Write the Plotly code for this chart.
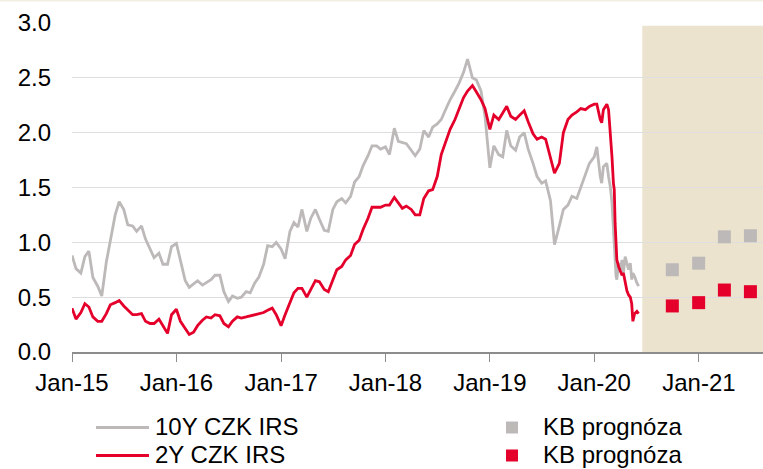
import pandas as pd
import plotly.graph_objects as go

# ---- data -------------------------------------------------------------
hist_dates = list(pd.date_range("2015-01-01", periods=120, freq="SMS").strftime("%Y-%m-%d"))
hist_dates += ["2020-01-01", "2020-01-10", "2020-01-22", "2020-01-27", "2020-02-02", "2020-02-14",
               "2020-02-20", "2020-02-26", "2020-03-03", "2020-03-08", "2020-03-11", "2020-03-14",
               "2020-03-17", "2020-03-20", "2020-03-26", "2020-04-01", "2020-04-07", "2020-04-12",
               "2020-04-18", "2020-04-24", "2020-04-30", "2020-05-06", "2020-05-11", "2020-05-15",
               "2020-05-21", "2020-05-29", "2020-06-04"]

irs_10y = [
    0.88, 0.76, 0.72, 0.87, 0.92, 0.68, 0.60, 0.51, 0.82, 1.02, 1.25, 1.37,
    1.30, 1.16, 1.15, 1.10, 1.15, 1.03, 0.93, 0.86, 0.90, 0.80, 0.80, 0.96,
    0.99, 0.84, 0.65, 0.59, 0.62, 0.65, 0.61, 0.63, 0.66, 0.70, 0.70, 0.55,
    0.46, 0.51, 0.49, 0.50, 0.55, 0.54, 0.63, 0.68, 0.80, 0.97, 0.96, 1.00,
    0.94, 0.85, 1.10, 1.18, 1.14, 1.30, 1.10, 1.22, 1.30, 1.21, 1.11, 1.10,
    1.30, 1.37, 1.40, 1.36, 1.42, 1.55, 1.60, 1.70, 1.79, 1.88, 1.88, 1.85,
    1.87, 1.80, 2.04, 1.92, 1.91, 1.90, 1.84, 1.79, 1.85, 2.02, 1.96, 2.05,
    2.08, 2.12, 2.22, 2.30, 2.38, 2.45, 2.55, 2.67, 2.50, 2.48, 2.38, 2.15,
    1.68, 1.88, 1.80, 1.78, 2.02, 1.88, 1.84, 1.96, 2.00, 1.85, 1.72, 1.60,
    1.54, 1.56, 1.38, 0.98, 1.15, 1.30, 1.34, 1.42, 1.40, 1.50, 1.63, 1.72,
    1.78, 1.87, 1.60, 1.54, 1.69, 1.72, 1.60, 1.51, 1.36, 1.11, 0.93, 0.75,
    0.70, 0.66, 0.81, 0.75, 0.84, 0.72, 0.87, 0.81, 0.75, 0.81, 0.66, 0.72,
    0.69, 0.63, 0.60,
]

irs_2y = [
    0.40, 0.30, 0.36, 0.44, 0.41, 0.32, 0.28, 0.28, 0.35, 0.43, 0.45, 0.47,
    0.42, 0.38, 0.34, 0.34, 0.35, 0.28, 0.26, 0.26, 0.30, 0.24, 0.17, 0.34,
    0.39, 0.28, 0.22, 0.16, 0.18, 0.24, 0.29, 0.32, 0.31, 0.34, 0.33, 0.26,
    0.23, 0.28, 0.32, 0.31, 0.32, 0.33, 0.34, 0.35, 0.36, 0.38, 0.40, 0.34,
    0.24, 0.34, 0.45, 0.54, 0.58, 0.58, 0.50, 0.57, 0.65, 0.64, 0.57, 0.55,
    0.66, 0.75, 0.78, 0.84, 0.88, 0.98, 1.02, 1.12, 1.22, 1.32, 1.32, 1.32,
    1.34, 1.34, 1.41, 1.36, 1.31, 1.33, 1.30, 1.25, 1.25, 1.40, 1.47, 1.48,
    1.60, 1.80, 1.93, 2.03, 2.12, 2.22, 2.32, 2.38, 2.43, 2.37, 2.30, 2.22,
    2.03, 2.16, 2.12, 2.18, 2.24, 2.15, 2.12, 2.16, 2.20, 2.10, 1.99, 1.94,
    1.96, 1.94, 1.78, 1.63, 1.72, 2.00, 2.12, 2.16, 2.19, 2.22, 2.21, 2.24,
    2.26, 2.26, 2.12, 2.09, 2.21, 2.26, 2.21, 2.03, 1.78, 1.54, 1.48, 1.17,
    0.93, 0.84, 0.78, 0.73, 0.70, 0.72, 0.62, 0.56, 0.52, 0.50, 0.44, 0.28,
    0.35, 0.37, 0.35,
]

fc_dates = ["2020-09-30", "2020-12-31", "2021-03-31", "2021-06-30"]
fc_10y = [0.75, 0.81, 1.05, 1.06]
fc_2y = [0.42, 0.45, 0.565, 0.55]

tick_vals = ["2015-01-01", "2016-01-01", "2017-01-01", "2018-01-01",
             "2019-01-01", "2020-01-01", "2021-01-01"]
tick_text = ["Jan-15", "Jan-16", "Jan-17", "Jan-18", "Jan-19", "Jan-20", "Jan-21"]

x_start, x_end = "2015-01-01", "2021-08-13"
forecast_start = "2020-06-17"

GRAY = "#BDB9B8"
RED = "#E4002B"
FONT = "Liberation Sans, Arial, sans-serif"
FS = 24

W, H = 763, 469
ML, MT = 72, 23
PLOT_H = 329
MB = H - MT - PLOT_H

# ---- figure -----------------------------------------------------------
fig = go.Figure()
fig.add_trace(go.Scatter(x=hist_dates, y=irs_10y, mode="lines", name="10Y CZK IRS",
                         line=dict(color=GRAY, width=2.8), showlegend=False))
fig.add_trace(go.Scatter(x=hist_dates, y=irs_2y, mode="lines", name="2Y CZK IRS",
                         line=dict(color=RED, width=2.8), showlegend=False))
fig.add_trace(go.Scatter(x=fc_dates, y=fc_10y, mode="markers", name="KB prognóza",
                         marker=dict(symbol="square", size=13, color=GRAY), showlegend=False))
fig.add_trace(go.Scatter(x=fc_dates, y=fc_2y, mode="markers", name="KB prognóza",
                         marker=dict(symbol="square", size=13, color=RED), showlegend=False))

# forecast shading
fig.add_shape(type="rect", xref="x", yref="y", x0=forecast_start, x1=x_end, y0=0, y1=2.975,
              fillcolor="#EBE3CD", line=dict(width=0), layer="below")

# manual legend (positions given in page pixels, converted to paper coords)
def px_x(X):
    return (X - ML) / float(W - ML)

def px_y(Y):
    return (MT + PLOT_H - Y) / float(PLOT_H)

# faint top border line
fig.add_shape(type="line", xref="paper", yref="paper", x0=px_x(0), x1=px_x(763),
              y0=px_y(0.8), y1=px_y(0.8), line=dict(color="#F2EEE2", width=1.5))

rows = [(426.5, GRAY, "10Y CZK IRS"), (454.5, RED, "2Y CZK IRS")]
for Y, col, txt in rows:
    fig.add_shape(type="line", xref="paper", yref="paper", x0=px_x(96), x1=px_x(149),
                  y0=px_y(Y + 1), y1=px_y(Y + 1), line=dict(color=col, width=3))
    fig.add_annotation(xref="paper", yref="paper", x=px_x(153), y=px_y(Y), text=txt,
                       showarrow=False, xanchor="left", yanchor="middle",
                       font=dict(family=FONT, size=FS, color="#000000"))
    fig.add_shape(type="rect", xref="paper", yref="paper", x0=px_x(506), x1=px_x(518),
                  y0=px_y(Y + 7), y1=px_y(Y - 5), fillcolor=col, line=dict(width=0))
    fig.add_annotation(xref="paper", yref="paper", x=px_x(541), y=px_y(Y), text="KB prognóza",
                       showarrow=False, xanchor="left", yanchor="middle",
                       font=dict(family=FONT, size=FS, color="#000000"))

fig.update_layout(
    width=W, height=H,
    margin=dict(l=ML, r=0, t=MT, b=MB, pad=0),
    paper_bgcolor="white", plot_bgcolor="white",
    font=dict(family=FONT, size=FS, color="#000000"),
    showlegend=False,
)
fig.update_xaxes(
    type="date", range=[x_start, x_end],
    tickvals=tick_vals, ticktext=tick_text,
    showgrid=False, showline=True, linecolor="#8C8C8C", linewidth=1.5,
    ticks="outside", ticklen=8, tickcolor="#8C8C8C", tickwidth=1.2,
    tickfont=dict(family=FONT, size=FS, color="#000000"),
    zeroline=False,
)
fig.update_yaxes(
    range=[0, 3.0], dtick=0.5, tick0=0, tickformat=".1f",
    showgrid=True, gridcolor="#DEDEDE", gridwidth=1,
    showline=False, zeroline=False, ticks="",
    ticklabelstandoff=20,
    tickfont=dict(family=FONT, size=FS, color="#000000"),
)

fig.write_html(
    "out.html",
    config={"displayModeBar": False},
    post_script="document.body.style.margin='0';document.body.style.overflow='hidden';",
)
